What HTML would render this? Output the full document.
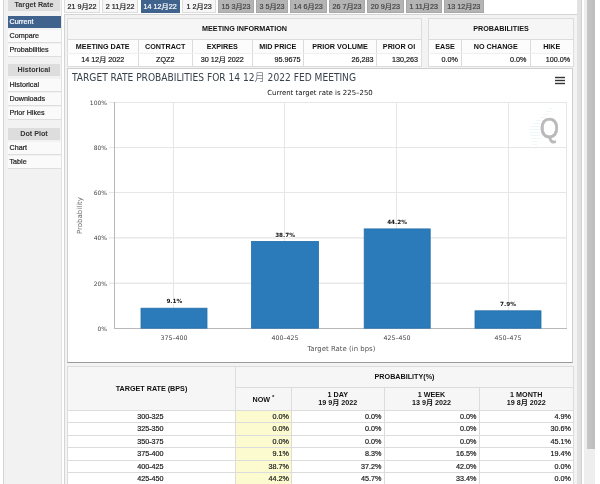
<!DOCTYPE html>
<html lang="zh">
<head>
<meta charset="utf-8">
<title>FedWatch</title>
<style>
*{box-sizing:border-box;margin:0;padding:0}
html,body{width:600px;height:484px;overflow:hidden;background:#fff}
body{position:relative;font-family:"Liberation Sans","Noto Sans CJK SC",sans-serif;font-size:7.2px;color:#222;line-height:1}
.abs{position:absolute}
/* sidebar */
#side{left:3px;top:0;width:59px;height:484px;background:#f2f2f2;border-left:1px solid #d4d4d4;border-right:1px solid #e2e2e2}
.sh{position:absolute;left:4px;width:52px;height:12px;background:#dddddd;font-weight:bold;text-align:center;line-height:12px;color:#333;font-size:7.2px}
.si{position:absolute;left:4px;width:53px;height:13px;background:#fafafa;border-bottom:1px solid #dedede;line-height:12px;padding-left:1.5px;color:#222;font-size:7.2px;-webkit-text-stroke:0.2px}
.si.on{background:#3f638c;color:#fff;border-bottom:0;height:12px;line-height:12px}
/* tabs */
.tab{position:absolute;top:0;height:13px;background:#f6f6f6;border:1px solid #dcdcdc;border-top:0;text-align:center;line-height:13px;font-size:7.2px;color:#222;white-space:nowrap;-webkit-text-stroke:0.2px}
.tab.on{background:#3f638c;color:#fff;border-color:#3f638c}
.tab.off{background:#b4b4b4;border-color:#a8a8a8;color:#444}
/* panel */
#panel{left:64px;top:14px;width:513px;height:480px;background:#f3f3f3;border:1px solid #d4d4d4;border-right:0}
#band{left:577px;top:0;width:4.5px;height:484px;background:#e2e2e2;border-right:1px solid #d0d0d0}
table{border-collapse:collapse;position:absolute;table-layout:fixed}
td,th{border:1px solid #dcdcdc;font-size:7.2px;white-space:nowrap;overflow:hidden}
th{background:#f6f6f6;font-weight:bold;color:#111;text-align:center}
td{background:#fff;color:#1a1a1a;-webkit-text-stroke:0.2px}
#chart{left:67px;top:68px;width:506px;height:295px;background:#fff;border:1px solid #cfcfcf;border-bottom:1px solid #9a9a9a}
.r{text-align:right}.c{text-align:center}
#sb1{left:587px;top:0;width:7.5px;height:449px;background:linear-gradient(90deg,#c6c6c6,#bcbcbc)}
tr.ch th{background:#fcfcfc;border-bottom:1px solid #f0f0f0}tr.cd td{border-top:1px solid #f0f0f0}tr.d{height:12.4px}tr.h2 th{line-height:8.5px}tr.d td{padding-right:2.2px}td.y{background:#fbfbcf}
#sb0{left:584px;top:0;width:10.5px;height:484px;background:#eeeeee}
</style>
</head>
<body>
<div id="side" class="abs">
  <div class="sh" style="top:-1px">Target Rate</div>
  <div class="si on" style="top:15.5px">Current</div>
  <div class="si" style="top:29.5px">Compare</div>
  <div class="si" style="top:43.5px">Probabilities</div>
  <div class="sh" style="top:64px">Historical</div>
  <div class="si" style="top:78.5px">Historical</div>
  <div class="si" style="top:92.5px">Downloads</div>
  <div class="si" style="top:106.5px">Prior Hikes</div>
  <div class="sh" style="top:127.5px">Dot Plot</div>
  <div class="si" style="top:142.3px">Chart</div>
  <div class="si" style="top:156.3px">Table</div>
</div>

<div class="tab" style="left:64px;width:36px">21 9月22</div>
<div class="tab" style="left:102.3px;width:35.7px">2 11月22</div>
<div class="tab on" style="left:140.6px;width:39.2px">14 12月22</div>
<div class="tab" style="left:182px;width:34.2px">1 2月23</div>
<div class="tab off" style="left:218px;width:36px">15 3月23</div>
<div class="tab off" style="left:256.3px;width:31.4px">3 5月23</div>
<div class="tab off" style="left:289.8px;width:36.8px">14 6月23</div>
<div class="tab off" style="left:328.8px;width:36.4px">26 7月23</div>
<div class="tab off" style="left:367.1px;width:36.5px">20 9月23</div>
<div class="tab off" style="left:405.8px;width:35.8px">1 11月23</div>
<div class="tab off" style="left:443.8px;width:40.0px">13 12月23</div>

<div id="panel" class="abs"></div>
<div id="band" class="abs"></div>

<table style="left:67px;top:18px;width:354px">
  <colgroup><col style="width:70.5px"><col style="width:54.5px"><col style="width:59.5px"><col style="width:51.5px"><col style="width:73px"><col style="width:45px"></colgroup>
  <tr style="height:21px"><th colspan="6">MEETING INFORMATION</th></tr>
  <tr class="ch" style="height:14px"><th>MEETING DATE</th><th>CONTRACT</th><th>EXPIRES</th><th>MID PRICE</th><th>PRIOR VOLUME</th><th>PRIOR OI</th></tr>
  <tr class="cd" style="height:13px"><td class="c">14 12月 2022</td><td class="c">ZQZ2</td><td class="c">30 12月 2022</td><td class="r" style="padding-right:2.5px">95.9675</td><td class="r" style="padding-right:2.5px">26,283</td><td class="r" style="padding-right:3px">130,263</td></tr>
</table>

<table style="left:428px;top:18px;width:145px">
  <colgroup><col style="width:33px"><col style="width:68.5px"><col style="width:43.5px"></colgroup>
  <tr style="height:21px"><th colspan="3">PROBABILITIES</th></tr>
  <tr class="ch" style="height:14px"><th>EASE</th><th>NO CHANGE</th><th>HIKE</th></tr>
  <tr class="cd" style="height:13px"><td class="r" style="padding-right:3px">0.0%</td><td class="r" style="padding-right:3px">0.0%</td><td class="r" style="padding-right:3px">100.0%</td></tr>
</table>

<div id="chart" class="abs">
<svg width="504" height="293" viewBox="68 69 504 293" style="position:absolute;left:0;top:0;font-family:'DejaVu Sans','Noto Sans CJK SC',sans-serif">
  <!-- gridlines -->
  <g stroke="#e6e6e6" stroke-width="1" shape-rendering="crispEdges">
    <line x1="109" x2="566" y1="102.5" y2="102.5"/>
    <line x1="109" x2="566" y1="147.5" y2="147.5"/>
    <line x1="109" x2="566" y1="192.5" y2="192.5"/>
    <line x1="109" x2="566" y1="237.9" y2="237.9" shape-rendering="auto" stroke="#dedede"/>
    <line x1="109" x2="566" y1="283.2" y2="283.2" shape-rendering="auto" stroke="#dedede"/>
    <line x1="173.5" x2="173.5" y1="102" y2="328"/>
    <line x1="284.5" x2="284.5" y1="102" y2="328"/>
    <line x1="396.5" x2="396.5" y1="102" y2="328"/>
    <line x1="508.5" x2="508.5" y1="102" y2="328"/>
    <line x1="566.5" x2="566.5" y1="102" y2="328"/>
  </g>
  <g stroke="#b8b8b8" stroke-width="1" shape-rendering="crispEdges">
    <line x1="114.5" x2="114.5" y1="102" y2="328"/>
    <line x1="114" x2="567" y1="328.5" y2="328.5"/>
  </g>
  <!-- bars -->
  <g fill="#2b7bba" stroke="#246fab" stroke-width="0.8">
    <rect x="141" y="308.2" width="66" height="20"/>
    <rect x="251.5" y="241.4" width="67" height="86.8"/>
    <rect x="364.2" y="228.9" width="66" height="99.3"/>
    <rect x="475" y="310.8" width="66" height="17.4"/>
  </g>
  <!-- title -->
  <text x="72" y="81" font-size="9.8" fill="#39434d" font-family="'DejaVu Sans Condensed','DejaVu Sans','Noto Sans CJK SC',sans-serif" font-weight="200" textLength="284" lengthAdjust="spacingAndGlyphs">TARGET RATE PROBABILITIES FOR 14 12月 2022 FED MEETING</text>
  <text x="320" y="94.6" font-size="6.95" fill="#111" text-anchor="middle">Current target rate is 225–250</text>
  <!-- y labels -->
  <g font-size="6" fill="#444" text-anchor="end">
    <text x="107" y="104.5">100%</text>
    <text x="107" y="149.5">80%</text>
    <text x="107" y="194.5">60%</text>
    <text x="107" y="240">40%</text>
    <text x="107" y="285.5">20%</text>
    <text x="107" y="330.5">0%</text>
  </g>
  <text transform="translate(81.6,215.5) rotate(-90)" font-size="7" fill="#666" text-anchor="middle">Probability</text>
  <!-- x labels -->
  <g font-size="6.3" fill="#444" text-anchor="middle">
    <text x="174" y="339.5">375–400</text>
    <text x="285" y="339.5">400–425</text>
    <text x="397" y="339.5">425–450</text>
    <text x="508" y="339.5">450–475</text>
  </g>
  <text x="341.3" y="351.2" font-size="6.95" fill="#555" text-anchor="middle">Target Rate (in bps)</text>
  <!-- data labels -->
  <g font-size="5.7" font-weight="bold" fill="#111" text-anchor="middle" stroke="#fff" stroke-width="1.2" paint-order="stroke" stroke-linejoin="round">
    <text x="174.3" y="302.6">9.1%</text>
    <text x="285" y="237">38.7%</text>
    <text x="397" y="224">44.2%</text>
    <text x="508" y="306">7.9%</text>
  </g>
  <!-- menu -->
  <g stroke="#333" stroke-width="1.4">
    <line x1="555" x2="565" y1="77.5" y2="77.5"/>
    <line x1="555" x2="565" y1="80.5" y2="80.5"/>
    <line x1="555" x2="565" y1="83.5" y2="83.5"/>
  </g>
  <!-- logo -->
  <g stroke="#d3edf4" stroke-width="0.8" opacity="0.5">
    <line x1="549" x2="552" y1="108.5" y2="108.5"/>
    <line x1="546" x2="551" y1="111.5" y2="111.5"/>
    <line x1="543" x2="549" y1="114.5" y2="114.5"/>
    <line x1="540" x2="546" y1="117.5" y2="117.5"/>
    <line x1="536" x2="541" y1="120.5" y2="120.5"/>
    <line x1="533" x2="540" y1="123.5" y2="123.5"/>
    <line x1="531" x2="540" y1="126.5" y2="126.5"/>
    <line x1="529" x2="540" y1="129.5" y2="129.5"/>
    <line x1="529" x2="540" y1="132.5" y2="132.5"/>
    <line x1="530" x2="540" y1="135.5" y2="135.5"/>
    <line x1="531" x2="541" y1="138.5" y2="138.5"/>
    <line x1="532" x2="538" y1="141.5" y2="141.5"/>
    <line x1="533" x2="537" y1="144.5" y2="144.5"/>
  </g>
  <text transform="translate(549.5,137.6) scale(0.84,1)" font-size="29.5" fill="#b9b9b9" stroke="#b9b9b9" stroke-width="0.7" text-anchor="middle" font-family="'Liberation Sans',sans-serif">Q</text>
</svg>
</div>

<table style="left:67px;top:366px;width:506px">
  <colgroup><col style="width:168px"><col style="width:56px"><col style="width:92.5px"><col style="width:95px"><col style="width:94.5px"></colgroup>
  <tr style="height:21px"><th rowspan="2">TARGET RATE (BPS)</th><th colspan="4">PROBABILITY(%)</th></tr>
  <tr class="h2" style="height:23px"><th>NOW <sup>*</sup></th><th>1 DAY<br>19 9月 2022</th><th>1 WEEK<br>13 9月 2022</th><th>1 MONTH<br>19 8月 2022</th></tr>
  <tr class="d"><td class="c">300-325</td><td class="r y">0.0%</td><td class="r">0.0%</td><td class="r">0.0%</td><td class="r">4.9%</td></tr>
  <tr class="d"><td class="c">325-350</td><td class="r y">0.0%</td><td class="r">0.0%</td><td class="r">0.0%</td><td class="r">30.6%</td></tr>
  <tr class="d"><td class="c">350-375</td><td class="r y">0.0%</td><td class="r">0.0%</td><td class="r">0.0%</td><td class="r">45.1%</td></tr>
  <tr class="d"><td class="c">375-400</td><td class="r y">9.1%</td><td class="r">8.3%</td><td class="r">16.5%</td><td class="r">19.4%</td></tr>
  <tr class="d"><td class="c">400-425</td><td class="r y">38.7%</td><td class="r">37.2%</td><td class="r">42.0%</td><td class="r">0.0%</td></tr>
  <tr class="d"><td class="c">425-450</td><td class="r y">44.2%</td><td class="r">45.7%</td><td class="r">33.4%</td><td class="r">0.0%</td></tr>
</table>

<div id="sb0" class="abs"></div>
<div id="sb1" class="abs"></div>
</body>
</html>
